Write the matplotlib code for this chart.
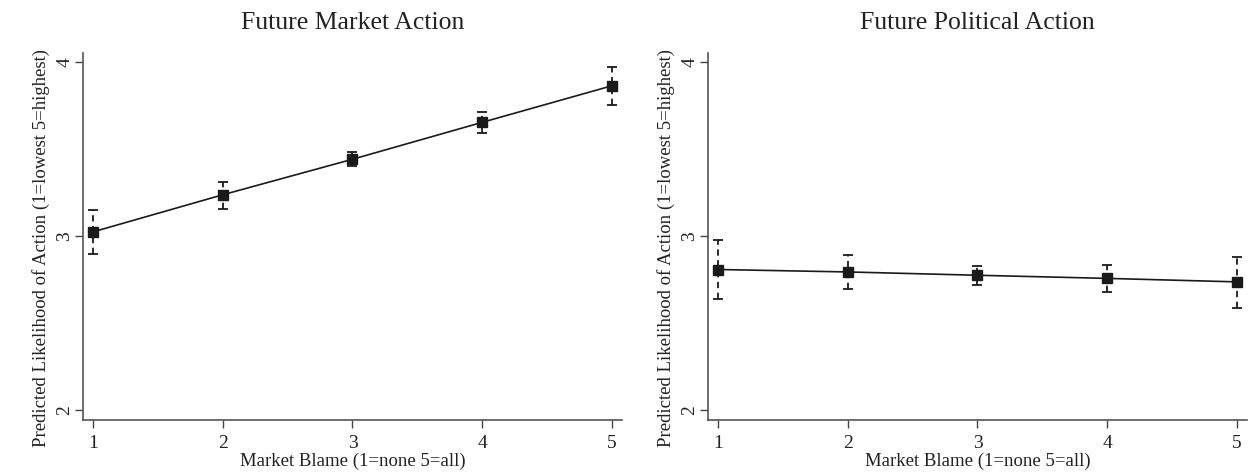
import matplotlib
matplotlib.use("Agg")
import matplotlib.pyplot as plt

blame = [1, 2, 3, 4, 5]
market_pred = [3.023, 3.236, 3.44, 3.652, 3.862]
market_lo = [2.897, 3.157, 3.40, 3.59, 3.753]
market_hi = [3.15, 3.31, 3.48, 3.713, 3.97]
political_pred = [2.807, 2.793, 2.774, 2.756, 2.736]
political_lo = [2.64, 2.694, 2.717, 2.675, 2.588]
political_hi = [2.977, 2.889, 2.83, 2.833, 2.879]
titles = ["Future Market Action", "Future Political Action"]
xlabel = "Market Blame (1=none 5=all)"
ylabel = "Predicted Likelihood of Action (1=lowest 5=highest)"
yticks = [2, 3, 4]

plt.rcParams['font.family'] = ['Liberation Serif', 'DejaVu Serif']
fig = plt.figure(figsize=(12.54, 4.76), dpi=100)
col = '#1a1a1a'
panels = [(market_pred, market_lo, market_hi), (political_pred, political_lo, political_hi)]
lefts = [83 / 1254, 708 / 1254]
for i, (pred, lo, hi) in enumerate(panels):
    ax = fig.add_axes([lefts[i], 56 / 476, 539 / 1254, 367 / 476])
    yerr = [[p - l for p, l in zip(pred, lo)], [h - p for p, h in zip(pred, hi)]]
    ax.plot(blame, pred, color=col, lw=1.2, zorder=2)
    eb = ax.errorbar(blame, pred, yerr=yerr, fmt='none', ecolor=col, elinewidth=1.3,
                     capsize=3.5, capthick=1.3, zorder=3)
    eb[2][0].set_linestyle((0, (3.5, 2.5)))
    ax.plot(blame, pred, 's', color=col, markersize=7.5, zorder=4)
    ax.set_xlim(0.923, 5.077)
    ax.set_ylim(1.943, 4.05)
    ax.set_xticks(blame)
    ax.set_yticks(yticks)
    ax.set_yticklabels([str(t) for t in yticks], rotation=90, va='center')
    ax.tick_params(direction='out', length=6, width=1, colors='#444444', labelsize=14,
                   labelcolor='#222222')
    ax.tick_params(axis='y', pad=1)
    ax.tick_params(axis='x', pad=5)
    for s in ['top', 'right']:
        ax.spines[s].set_visible(False)
    for s in ['left', 'bottom']:
        ax.spines[s].set_color('#555555')
        ax.spines[s].set_linewidth(1.2)
    ax.set_title(titles[i], fontsize=18.5, color='#222222', pad=17)
    ax.set_xlabel(xlabel, fontsize=13.5, color='#222222', labelpad=0)
    ax.set_ylabel(ylabel, fontsize=13.5, color='#222222')
    ax.yaxis.set_label_coords(-33 / 539, 0.469)

fig.savefig('out.png', dpi=100, facecolor='white')
